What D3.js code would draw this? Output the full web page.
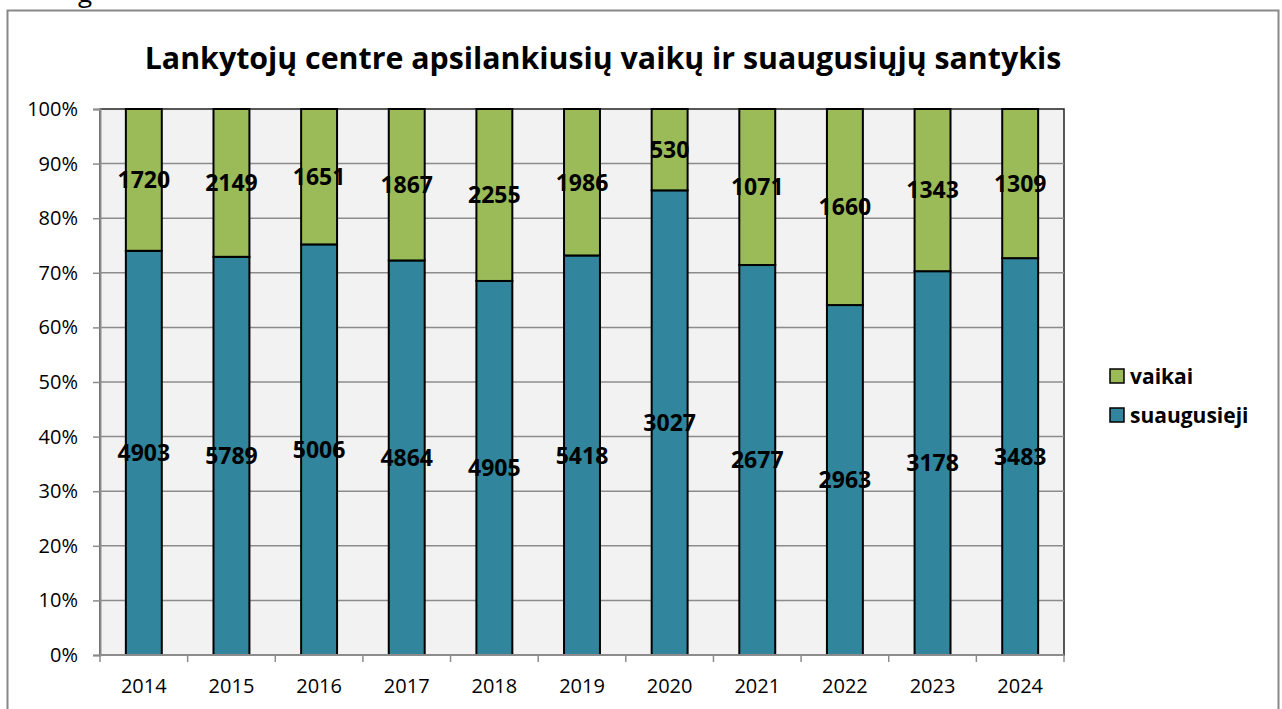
<!DOCTYPE html>
<html lang="lt">

<head>
    <meta charset="UTF-8" />
    <title>Lankytojų santykis</title>
    <script src="https://d3js.org/d3.v7.min.js"></script>
    <style>
        body { margin: 0; background: #fff; }
        text { font-family: "Open Sans", "Noto Sans", sans-serif; }
    </style>
</head>

<body>
    <div id="chart"></div>

    <script>
        var w = 1282;
        var h = 709;

        var years = ["2014", "2015", "2016", "2017", "2018", "2019", "2020", "2021", "2022", "2023", "2024"];
        var suaugusieji = [4903, 5789, 5006, 4864, 4905, 5418, 3027, 2677, 2963, 3178, 3483];
        var vaikai = [1720, 2149, 1651, 1867, 2255, 1986, 530, 1071, 1660, 1343, 1309];
        var seriesNames = ["suaugusieji", "vaikai"];
        var seriesColors = ["#31859c", "#9bbb59"];
        var yTicks = [0, 0.1, 0.2, 0.3, 0.4, 0.5, 0.6, 0.7, 0.8, 0.9, 1];

        var plot = { left: 100, right: 1064, top: 109, bottom: 655 };

        var svg = d3.select("#chart")
            .append("svg")
            .attr("width", w)
            .attr("height", h);

        // cut-off text above the chart frame
        svg.append("text")
            .attr("x", 78)
            .attr("y", 2)
            .style("font-size", "26px")
            .text("g");

        // chart frame
        svg.append("rect")
            .attr("x", 7.5)
            .attr("y", 10.5)
            .attr("width", 1271)
            .attr("height", 720)
            .attr("fill", "#fff")
            .attr("stroke", "#888")
            .attr("stroke-width", 2);

        var rows = years.map(function (y, i) {
            return { year: y, suaugusieji: suaugusieji[i], vaikai: vaikai[i] };
        });

        var stacked = d3.stack()
            .keys(seriesNames)
            .offset(d3.stackOffsetExpand)(rows);

        var xScale = d3.scaleBand()
            .domain(years)
            .range([plot.left, plot.right])
            .paddingInner(0.59)
            .paddingOuter(0.295);

        var yScale = d3.scaleLinear()
            .domain([0, 1])
            .range([plot.bottom, plot.top]);

        // plot background
        svg.append("rect")
            .attr("x", plot.left)
            .attr("y", plot.top)
            .attr("width", plot.right - plot.left)
            .attr("height", plot.bottom - plot.top)
            .attr("fill", "#f2f2f2")
            .attr("stroke", "#222")
            .attr("stroke-width", 1.5);

        // gridlines
        svg.append("g")
            .selectAll("line")
            .data(yTicks.slice(1, -1))
            .enter()
            .append("line")
            .attr("x1", plot.left)
            .attr("x2", plot.right)
            .attr("y1", function (d) { return yScale(d); })
            .attr("y2", function (d) { return yScale(d); })
            .attr("stroke", "#8c8c8c")
            .attr("stroke-width", 1.5);

        // bars
        stacked.forEach(function (s, si) {
            svg.append("g")
                .selectAll("rect")
                .data(s)
                .enter()
                .append("rect")
                .attr("x", function (d) { return xScale(d.data.year); })
                .attr("y", function (d) { return yScale(d[1]); })
                .attr("width", xScale.bandwidth())
                .attr("height", function (d) { return yScale(d[0]) - yScale(d[1]); })
                .attr("fill", seriesColors[si])
                .attr("stroke", "#000")
                .attr("stroke-width", 2);
        });

        // axes
        var yAxis = d3.axisLeft(yScale)
            .tickValues(yTicks)
            .tickFormat(d3.format(".0%"))
            .tickSize(7)
            .tickPadding(15);

        var gy = svg.append("g")
            .attr("transform", "translate(" + plot.left + ",0)")
            .call(yAxis);
        gy.select(".domain").attr("stroke", "#8c8c8c").attr("stroke-width", 2);
        gy.selectAll(".tick line").attr("stroke", "#8c8c8c").attr("stroke-width", 1.5);
        gy.selectAll("text").style("font-size", "20px").attr("fill", "#000");

        var gx = svg.append("g")
            .attr("transform", "translate(0," + plot.bottom + ")");
        gx.append("line")
            .attr("x1", plot.left).attr("x2", plot.right)
            .attr("stroke", "#8c8c8c").attr("stroke-width", 2);
        var bounds = years.map(function (y) { return xScale(y) - xScale.step() * 0.295; });
        bounds.push(plot.right);
        gx.selectAll(".tk")
            .data(bounds)
            .enter()
            .append("line")
            .attr("x1", function (d) { return d; })
            .attr("x2", function (d) { return d; })
            .attr("y1", 0)
            .attr("y2", 7)
            .attr("stroke", "#8c8c8c")
            .attr("stroke-width", 1.5);
        gx.selectAll("text")
            .data(years)
            .enter()
            .append("text")
            .attr("x", function (d) { return xScale(d) + xScale.bandwidth() / 2; })
            .attr("y", 38)
            .attr("text-anchor", "middle")
            .style("font-size", "20px")
            .text(function (d) { return d; });

        // data labels
        stacked.forEach(function (s, si) {
            svg.append("g")
                .selectAll("text")
                .data(s)
                .enter()
                .append("text")
                .attr("x", function (d) { return xScale(d.data.year) + xScale.bandwidth() / 2; })
                .attr("y", function (d) { return yScale((d[0] + d[1]) / 2); })
                .attr("dy", "0.36em")
                .attr("text-anchor", "middle")
                .style("font-size", "23px")
                .style("font-weight", "bold")
                .text(function (d) { return d.data[seriesNames[si]]; });
        });

        // title
        var title = svg.append("text")
            .attr("x", 603)
            .attr("y", 69)
            .attr("text-anchor", "middle")
            .style("font-size", "30px")
            .style("font-weight", "bold")
            .text("Lankytojų centre apsilankiusių vaikų ir suaugusiųjų santykis");
        var tw = title.node().getComputedTextLength();
        title.style("font-size", (30 * 917 / tw) + "px");

        // legend
        var legend = svg.append("g")
            .attr("transform", "translate(1110,369)");
        var legendItems = [
            { name: "vaikai", color: seriesColors[1] },
            { name: "suaugusieji", color: seriesColors[0] }
        ];
        legend.selectAll("rect")
            .data(legendItems)
            .enter()
            .append("rect")
            .attr("x", 0)
            .attr("y", function (d, i) { return i * 39; })
            .attr("width", 14)
            .attr("height", 14)
            .attr("fill", function (d) { return d.color; })
            .attr("stroke", "#000")
            .attr("stroke-width", 1.5);
        legend.selectAll("text")
            .data(legendItems)
            .enter()
            .append("text")
            .attr("x", 20)
            .attr("y", function (d, i) { return i * 39 + 7; })
            .attr("dy", "0.36em")
            .style("font-size", "21px")
            .style("font-weight", "bold")
            .text(function (d) { return d.name; });
    </script>
</body>

</html>
